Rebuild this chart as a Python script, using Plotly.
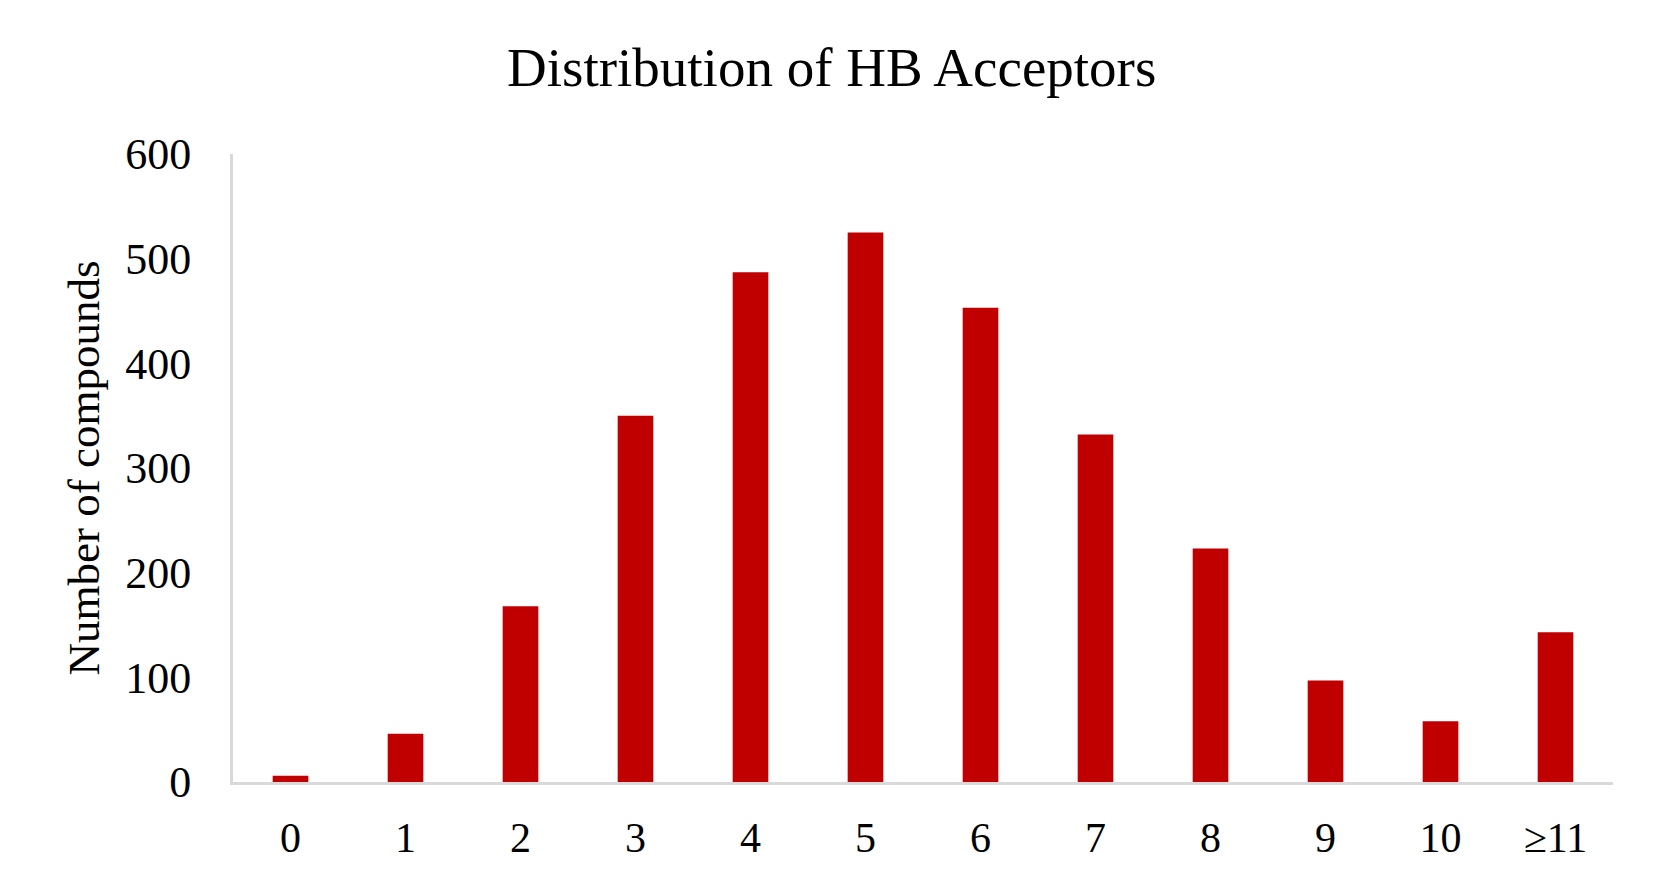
import plotly.graph_objects as go

categories = ["0", "1", "2", "3", "4", "5", "6", "7", "8", "9", "10", "≥11"]
compounds = [6, 46, 168, 350, 487, 525, 453, 332, 223, 97, 58, 143]
y_ticks = [0, 100, 200, 300, 400, 500, 600]

FONT = "Liberation Serif, Times New Roman, serif"

fig = go.Figure(
    go.Bar(
        x=categories,
        y=compounds,
        marker=dict(color="#C00000", line=dict(width=0)),
    )
)

fig.update_layout(
    width=1664,
    height=892,
    paper_bgcolor="white",
    plot_bgcolor="white",
    margin=dict(l=225, r=59, t=146, b=118),
    bargap=0.69,
    showlegend=False,
    title=dict(
        text="Distribution of HB Acceptors",
        x=0.495,
        xanchor="center",
        y=1 - 59 / 892,
        yanchor="middle",
        font=dict(family=FONT, size=55, color="black"),
    ),
    font=dict(family=FONT, color="black"),
)

fig.update_xaxes(
    type="category",
    showline=True,
    linecolor="#d9d9d9",
    linewidth=3,
    showgrid=False,
    ticks="",
    tickfont=dict(family=FONT, size=42, color="black"),
    ticklabelstandoff=17,
)

fig.update_yaxes(
    range=[0, 600],
    tickvals=y_ticks,
    ticktext=[str(v) for v in y_ticks],
    showline=True,
    linecolor="#d9d9d9",
    linewidth=3,
    showgrid=False,
    zeroline=False,
    ticks="",
    tickfont=dict(family=FONT, size=44, color="black"),
    ticklabelstandoff=30,
    title=dict(
        text="Number of compounds",
        font=dict(family=FONT, size=45, color="black"),
        standoff=12,
    ),
)

fig.write_html("out.html")
